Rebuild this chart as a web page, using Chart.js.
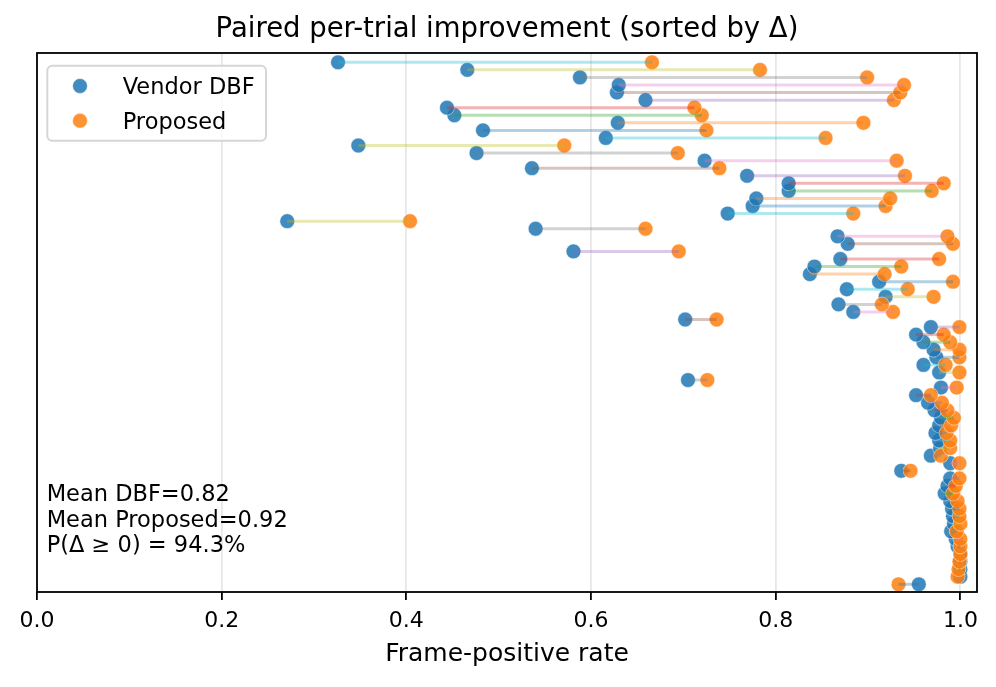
<!DOCTYPE html>
<html><head><meta charset="utf-8">
<script src="https://cdn.jsdelivr.net/npm/chart.js@4.4.1/dist/chart.umd.min.js"></script>
<style>html,body{margin:0;padding:0;background:#fff;overflow:hidden}canvas{display:block}</style>
</head><body>
<canvas id="c" width="996" height="687"></canvas>
<script>
// Trials sorted by delta (index 0 = bottom row, smallest delta)
const dbf = [
  0.955, 1.000, 1.000, 1.000, 1.000, 0.997, 0.995, 0.990, 0.993, 0.992,
  0.991, 0.989, 0.983, 0.986, 0.989, 0.936, 0.989, 0.968, 0.978, 0.977,
  0.973, 0.977, 0.979, 0.972, 0.965, 0.952, 0.979, 0.705, 0.977, 0.960,
  0.974, 0.971, 0.960, 0.952, 0.968, 0.702, 0.884, 0.868, 0.919, 0.877,
  0.912, 0.837, 0.842, 0.870, 0.581, 0.878, 0.867, 0.540, 0.271, 0.748,
  0.775, 0.779, 0.814, 0.814, 0.769, 0.536, 0.723, 0.476, 0.348, 0.616,
  0.483, 0.629, 0.452, 0.444, 0.659, 0.628, 0.630, 0.588, 0.466, 0.326
];
const proposed = [
  0.933, 0.997, 0.998, 0.999, 1.000, 1.000, 1.000, 0.996, 1.000, 0.999,
  0.999, 0.997, 0.992, 0.995, 0.999, 0.946, 0.999, 0.979, 0.989, 0.989,
  0.985, 0.990, 0.993, 0.986, 0.980, 0.968, 0.996, 0.726, 0.999, 0.984,
  0.999, 0.999, 0.989, 0.982, 0.999, 0.736, 0.927, 0.915, 0.971, 0.943,
  0.992, 0.918, 0.936, 0.977, 0.695, 0.992, 0.986, 0.659, 0.404, 0.884,
  0.919, 0.924, 0.969, 0.982, 0.940, 0.739, 0.931, 0.694, 0.571, 0.854,
  0.725, 0.895, 0.720, 0.712, 0.928, 0.935, 0.939, 0.899, 0.783, 0.666
];
const seriesNames = ["Vendor DBF", "Proposed"];
const xTicks = [0, 0.2, 0.4, 0.6, 0.8, 1.0];
const xTickLabels = ["0.0", "0.2", "0.4", "0.6", "0.8", "1.0"];
const statLines = ["Mean DBF=0.82", "Mean Proposed=0.92", "P(\u0394 \u2265 0) = 94.3%"];
const titleText = "Paired per-trial improvement (sorted by \u0394)";
const xTitle = "Frame-positive rate";

const tab10 = ['#1f77b4','#ff7f0e','#2ca02c','#d62728','#9467bd','#8c564b','#e377c2','#7f7f7f','#bcbd22','#17becf'];
function rgba(hex, a) {
  const n = parseInt(hex.slice(1), 16);
  return `rgba(${(n >> 16) & 255},${(n >> 8) & 255},${n & 255},${a})`;
}
const FONT = "'DejaVu Sans', sans-serif";
const PT_R = 7.4;

const datasets = [];
dbf.forEach((v, i) => {
  datasets.push({
    type: 'scatter', label: '', link: true,
    data: [{x: v, y: i}, {x: proposed[i], y: i}],
    showLine: true, borderColor: rgba(tab10[i % 10], 0.35), borderWidth: 3.0,
    pointRadius: 0, pointHoverRadius: 0, order: 0
  });
});
const dsBlue = {
  type: 'scatter', label: seriesNames[0],
  data: dbf.map((v, i) => ({x: v, y: i})),
  backgroundColor: rgba(tab10[0], 0.85), borderColor: 'rgba(255,255,255,0.6)',
  borderWidth: 0.8, pointRadius: PT_R, pointHoverRadius: PT_R, order: 2
};
const dsOrange = {
  type: 'scatter', label: seriesNames[1],
  data: proposed.map((v, i) => ({x: v, y: i})),
  backgroundColor: rgba(tab10[1], 0.85), borderColor: 'rgba(255,255,255,0.6)',
  borderWidth: 0.8, pointRadius: PT_R, pointHoverRadius: PT_R, order: 1
};
datasets.push(dsBlue, dsOrange);

const framePlugin = {
  id: 'frame',
  afterDatasetsDraw(chart) {
    const {ctx, chartArea: ca} = chart;
    ctx.save();
    ctx.fillStyle = '#000';
    ctx.font = `22.5px ${FONT}`;
    ctx.textBaseline = 'alphabetic';
    ctx.textAlign = 'left';
    const base = [91.3, 65.3, 40];
    statLines.forEach((t, k) => ctx.fillText(t, ca.left + 9.7, ca.bottom - base[k]));
    ctx.strokeStyle = '#000';
    ctx.lineWidth = 1.8;
    ctx.strokeRect(ca.left, ca.top, ca.right - ca.left, ca.bottom - ca.top);
    ctx.restore();
  },
  afterDraw(chart) {
    const {ctx, chartArea: ca} = chart;
    ctx.save();
    const L = ca.left + 10.3, T = ca.top + 12.7, W = 218.7, H = 75;
    ctx.beginPath();
    ctx.roundRect(L, T, W, H, 5);
    ctx.fillStyle = 'rgba(255,255,255,0.8)';
    ctx.fill();
    ctx.strokeStyle = 'rgba(204,204,204,0.8)';
    ctx.lineWidth = 2;
    ctx.stroke();
    [dsBlue, dsOrange].forEach((ds, k) => {
      const cy = T + 20.3 + k * 34.7;
      ctx.beginPath();
      ctx.arc(L + 32.7, cy, PT_R, 0, Math.PI * 2);
      ctx.fillStyle = ds.backgroundColor;
      ctx.fill();
      ctx.strokeStyle = ds.borderColor;
      ctx.lineWidth = ds.borderWidth;
      ctx.stroke();
      ctx.fillStyle = '#000';
      ctx.font = `22.5px ${FONT}`;
      ctx.textBaseline = 'alphabetic';
      ctx.textAlign = 'left';
      ctx.fillText(ds.label, L + 75.4, cy + 7.8);
    });
    ctx.restore();
  }
};

new Chart(document.getElementById('c'), {
  type: 'scatter',
  data: {datasets},
  options: {
    responsive: false,
    devicePixelRatio: 1,
    animation: false,
    events: [],
    layout: {padding: {left: 37, right: 19, top: 0, bottom: 0}},
    plugins: {
      legend: {display: false},
      tooltip: {enabled: false},
      title: {
        display: true, text: titleText, color: '#000',
        font: {family: FONT, size: 27.5, weight: 'normal', lineHeight: 1.2},
        padding: {top: 13.5, bottom: 6.5}
      }
    },
    scales: {
      x: {
        type: 'linear', min: 0, max: 1.018,
        afterBuildTicks: (scale) => { scale.ticks = xTicks.map(v => ({value: v})); },
        afterFit: (scale) => { scale.height = 95; },
        ticks: {
          color: '#000', font: {family: FONT, size: 22}, padding: 8,
          maxRotation: 0, autoSkip: false,
          callback: (v, i) => xTickLabels[i]
        },
        grid: {
          color: 'rgba(176,176,176,0.3)', lineWidth: 1.8,
          drawTicks: true, tickLength: 8, tickColor: '#000', tickWidth: 1.8
        },
        border: {display: false},
        title: {
          display: true, text: xTitle, color: '#000',
          font: {family: FONT, size: 25, lineHeight: 1.2},
          padding: {top: 0, bottom: 18}
        }
      },
      y: {
        type: 'linear', min: -1.02, max: 70.23, display: false
      }
    }
  },
  plugins: [framePlugin]
});
</script>
</body></html>
